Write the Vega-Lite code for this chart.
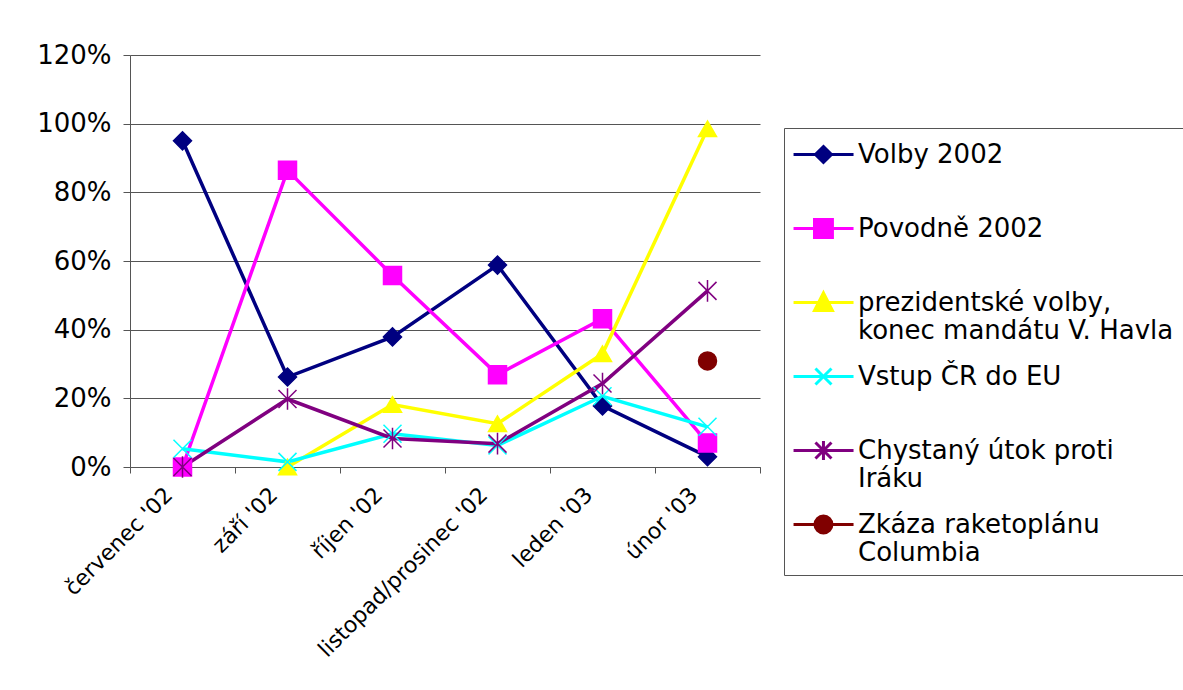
{
  "$schema": "https://vega.github.io/schema/vega-lite/v6.json",
  "width": 630,
  "height": 412,
  "autosize": {"type": "none"},
  "padding": {"left": 130, "top": 55, "right": 423, "bottom": 223},
  "background": "white",
  "config": {
    "view": {"stroke": null},
    "font": "DejaVu Sans",
    "axis": {"labelFont": "DejaVu Sans", "labelColor": "#000000", "title": null},
    "legend": {
      "padding": 9,
      "strokeColor": "#555555",
      "fillColor": "white",
      "symbolStrokeWidth": 3,
      "labelFont": "DejaVu Sans",
      "labelFontSize": 26,
      "labelColor": "#000000",
      "labelLimit": 500,
      "labelOffset": 30,
      "rowPadding": 15
    }
  },
  "data": {
    "values": [
      {"m": "červenec '02", "s": "Volby 2002", "v": 0.95},
      {"m": "září '02", "s": "Volby 2002", "v": 0.262},
      {"m": "říjen '02", "s": "Volby 2002", "v": 0.379},
      {"m": "listopad/prosinec '02", "s": "Volby 2002", "v": 0.588},
      {"m": "leden '03", "s": "Volby 2002", "v": 0.178},
      {"m": "únor '03", "s": "Volby 2002", "v": 0.03},
      {"m": "červenec '02", "s": "Povodně 2002", "v": 0.0},
      {"m": "září '02", "s": "Povodně 2002", "v": 0.864},
      {"m": "říjen '02", "s": "Povodně 2002", "v": 0.558},
      {"m": "listopad/prosinec '02", "s": "Povodně 2002", "v": 0.269},
      {"m": "leden '03", "s": "Povodně 2002", "v": 0.432},
      {"m": "únor '03", "s": "Povodně 2002", "v": 0.07},
      {"m": "září '02", "s": "prezidentské volby, konec mandátu V. Havla", "v": 0.0},
      {"m": "říjen '02", "s": "prezidentské volby, konec mandátu V. Havla", "v": 0.182},
      {"m": "listopad/prosinec '02", "s": "prezidentské volby, konec mandátu V. Havla", "v": 0.126},
      {"m": "leden '03", "s": "prezidentské volby, konec mandátu V. Havla", "v": 0.33},
      {"m": "únor '03", "s": "prezidentské volby, konec mandátu V. Havla", "v": 0.985},
      {"m": "červenec '02", "s": "Vstup ČR do EU", "v": 0.053},
      {"m": "září '02", "s": "Vstup ČR do EU", "v": 0.015},
      {"m": "říjen '02", "s": "Vstup ČR do EU", "v": 0.097},
      {"m": "listopad/prosinec '02", "s": "Vstup ČR do EU", "v": 0.063},
      {"m": "leden '03", "s": "Vstup ČR do EU", "v": 0.206},
      {"m": "únor '03", "s": "Vstup ČR do EU", "v": 0.117},
      {"m": "červenec '02", "s": "Chystaný útok proti Iráku", "v": 0.0},
      {"m": "září '02", "s": "Chystaný útok proti Iráku", "v": 0.198},
      {"m": "říjen '02", "s": "Chystaný útok proti Iráku", "v": 0.083},
      {"m": "listopad/prosinec '02", "s": "Chystaný útok proti Iráku", "v": 0.068},
      {"m": "leden '03", "s": "Chystaný útok proti Iráku", "v": 0.243},
      {"m": "únor '03", "s": "Chystaný útok proti Iráku", "v": 0.513},
      {"m": "únor '03", "s": "Zkáza raketoplánu Columbia", "v": 0.309}
    ]
  },
  "encoding": {
    "x": {
      "field": "m",
      "type": "nominal",
      "sort": ["červenec '02", "září '02", "říjen '02", "listopad/prosinec '02", "leden '03", "únor '03"],
      "scale": {"type": "band", "paddingInner": 0, "paddingOuter": 0},
      "axis": {
        "labelAngle": -45,
        "labelAlign": "right",
        "labelBaseline": "middle",
        "labelFontSize": 22,
        "labelPadding": 18,
        "labelOffset": -14,
        "labelLimit": 0,
        "labelOverlap": false,
        "tickBand": "extent",
        "tickSize": 6,
        "tickColor": "#555555",
        "domainColor": "#555555",
        "grid": false
      }
    },
    "y": {
      "field": "v",
      "type": "quantitative",
      "scale": {"domain": [0, 1.2], "nice": false},
      "axis": {
        "values": [0, 0.2, 0.4, 0.6, 0.8, 1.0, 1.2],
        "format": ".0%",
        "labelFontSize": 26,
        "labelPadding": 12,
        "tickSize": 7,
        "tickColor": "#555555",
        "domainColor": "#555555",
        "grid": true,
        "gridColor": "#555555",
        "gridOpacity": 1
      }
    }
  },
  "layer": [
    {
      "mark": {"type": "line", "strokeWidth": 3.5},
      "encoding": {
        "color": {
          "field": "s",
          "type": "nominal",
          "scale": {
            "domain": ["Volby 2002", "Povodně 2002", "prezidentské volby, konec mandátu V. Havla", "Vstup ČR do EU", "Chystaný útok proti Iráku", "Zkáza raketoplánu Columbia"],
            "range": ["#000080", "#FF00FF", "#FFFF00", "#00FFFF", "#800080", "#800000"]
          },
          "legend": null
        }
      }
    },
    {
      "mark": {"type": "point", "filled": true, "size": 324, "strokeWidth": 1.5, "opacity": 1},
      "encoding": {
        "color": {"field": "s", "type": "nominal", "legend": null},
        "stroke": {
          "field": "s",
          "type": "nominal",
          "scale": {
            "domain": ["Volby 2002", "Povodně 2002", "prezidentské volby, konec mandátu V. Havla", "Vstup ČR do EU", "Chystaný útok proti Iráku", "Zkáza raketoplánu Columbia"],
            "range": ["#000080", "#FF00FF", "#FFFF00", "#00FFFF", "#800080", "#800000"]
          },
          "legend": null
        },
        "shape": {
          "field": "s",
          "type": "nominal",
          "scale": {
            "domain": ["Volby 2002", "Povodně 2002", "prezidentské volby, konec mandátu V. Havla", "Vstup ČR do EU", "Chystaný útok proti Iráku", "Zkáza raketoplánu Columbia"],
            "range": ["diamond", "square", "triangle-up", "M-1,-1L1,1M-1,1L1,-1", "M-1,-1L1,1M-1,1L1,-1M0,-1.2L0,1.2", "circle"]
          },
          "legend": null
        }
      }
    },
    {
      "transform": [{"filter": "datum.v > 10"}],
      "mark": {"type": "point", "filled": true, "size": 1024, "strokeWidth": 3, "opacity": 1},
      "encoding": {
        "fill": {
          "field": "s",
          "type": "nominal",
          "scale": {
            "domain": ["Volby 2002", "Povodně 2002", "prezidentské volby, konec mandátu V. Havla", "Vstup ČR do EU", "Chystaný útok proti Iráku", "Zkáza raketoplánu Columbia"],
            "range": ["#000080", "#FF00FF", "#FFFF00", "#00FFFF", "#800080", "#800000"]
          },
          "legend": {"title": null, "orient": "none", "legendX": 654, "legendY": 73, "symbolSize": 1024}
        },
        "stroke": {
          "field": "s",
          "type": "nominal",
          "scale": {
            "domain": ["Volby 2002", "Povodně 2002", "prezidentské volby, konec mandátu V. Havla", "Vstup ČR do EU", "Chystaný útok proti Iráku", "Zkáza raketoplánu Columbia"],
            "range": ["#000080", "#FF00FF", "#FFFF00", "#00FFFF", "#800080", "#800000"]
          },
          "legend": {"title": null, "orient": "none", "legendX": 654, "legendY": 73, "symbolSize": 1024}
        },
        "shape": {
          "field": "s",
          "type": "nominal",
          "scale": {
            "domain": ["Volby 2002", "Povodně 2002", "prezidentské volby, konec mandátu V. Havla", "Vstup ČR do EU", "Chystaný útok proti Iráku", "Zkáza raketoplánu Columbia"],
            "range": [
              "M-1.06,0H2.69M0.81,-0.5L1.31,0L0.81,0.5L0.31,0Z",
              "M-1.06,0H2.69M0.25,-0.56H1.37V0.56H0.25Z",
              "M-1.06,0H2.69M0.81,-0.6L1.37,0.5H0.25Z",
              "M-1.06,0H2.69M0.31,-0.5L1.31,0.5M0.31,0.5L1.31,-0.5",
              "M-1.06,0H2.69M0.31,-0.5L1.31,0.5M0.31,0.5L1.31,-0.5M0.81,-0.6V0.6",
              "M-1.06,0H2.69M1.34,0A0.53,0.53 0 1,1 0.28,0A0.53,0.53 0 1,1 1.34,0Z"
            ]
          },
          "legend": {
            "title": null,
            "orient": "none",
            "legendX": 654,
            "legendY": 73,
            "symbolSize": 1024,
            "labelExpr": "datum.value == 'prezidentské volby, konec mandátu V. Havla' ? ['prezidentské volby,', 'konec mandátu V. Havla'] : datum.value == 'Chystaný útok proti Iráku' ? ['Chystaný útok proti', 'Iráku'] : datum.value == 'Zkáza raketoplánu Columbia' ? ['Zkáza raketoplánu', 'Columbia'] : [datum.label, ' ']"
          }
        }
      }
    }
  ],
  "resolve": {"scale": {"shape": "independent", "stroke": "independent", "fill": "independent"}}
}
